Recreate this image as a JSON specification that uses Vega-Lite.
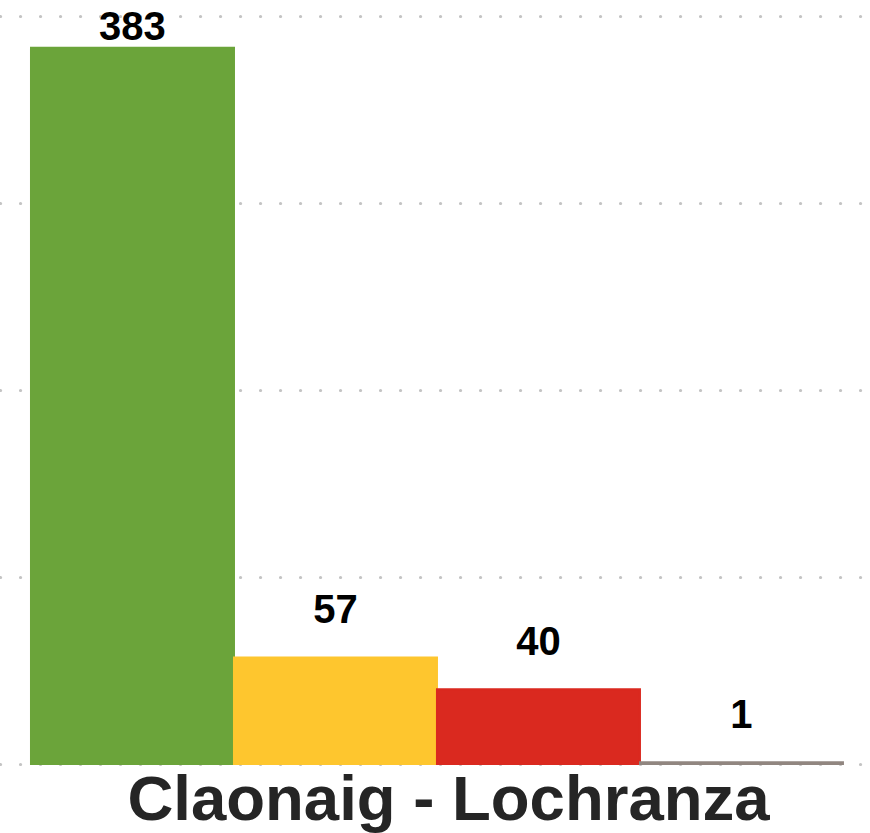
{
  "$schema": "https://vega.github.io/schema/vega-lite/v6.json",
  "autosize": "none",
  "width": 870,
  "height": 748,
  "padding": {"top": 16, "left": 0, "right": 0, "bottom": 69},
  "background": "white",
  "config": {"view": {"stroke": null}},
  "data": {
    "values": [
      {"status": "On time", "journeys": 383},
      {"status": "Minor delay", "journeys": 57},
      {"status": "Major delay", "journeys": 40},
      {"status": "Cancelled", "journeys": 1}
    ]
  },
  "encoding": {
    "x": {
      "field": "status",
      "type": "nominal",
      "sort": null,
      "scale": {"paddingInner": 0, "paddingOuter": 0.1429, "align": 0.534},
      "axis": {
        "title": "Claonaig - Lochranza",
        "labels": false,
        "ticks": false,
        "domain": false,
        "titleFont": "Liberation Sans",
        "titleFontSize": 63.5,
        "titleFontWeight": "bold",
        "titleColor": "#252525",
        "titleBaseline": "alphabetic",
        "titlePadding": 55,
        "titleX": 448
      }
    },
    "y": {
      "field": "journeys",
      "type": "quantitative",
      "scale": {"domain": [0, 400], "nice": false},
      "axis": {
        "title": null,
        "labels": false,
        "ticks": false,
        "domain": false,
        "values": [0, 100, 200, 300, 400],
        "grid": true,
        "gridColor": "#c4c4c4",
        "gridWidth": 3.2,
        "gridCap": "round",
        "gridDash": [0.1, 19.9]
      }
    }
  },
  "layer": [
    {
      "mark": {"type": "bar", "strokeWidth": 2},
      "encoding": {
        "color": {
          "field": "status",
          "type": "nominal",
          "scale": {
            "domain": ["On time", "Minor delay", "Major delay", "Cancelled"],
            "range": ["#6ba43a", "#fec62e", "#da291f", "#918680"]
          },
          "legend": null
        },
        "stroke": {
          "field": "status",
          "type": "nominal",
          "scale": {
            "domain": ["On time", "Minor delay", "Major delay", "Cancelled"],
            "range": ["#6ba43a", "#fec62e", "#da291f", "#918680"]
          },
          "legend": null
        }
      }
    },
    {
      "transform": [{"filter": "datum.journeys < 380"}],
      "mark": {"type": "text", "font": "Liberation Sans", "fontSize": 40, "fontWeight": "bold", "color": "#000000", "baseline": "alphabetic", "dy": -34},
      "encoding": {"text": {"field": "journeys", "type": "quantitative"}}
    },
    {
      "transform": [{"filter": "datum.journeys >= 380"}],
      "mark": {"type": "text", "font": "Liberation Sans", "fontSize": 40, "fontWeight": "bold", "color": "#000000", "baseline": "alphabetic", "dy": -8},
      "encoding": {"text": {"field": "journeys", "type": "quantitative"}}
    }
  ]
}
